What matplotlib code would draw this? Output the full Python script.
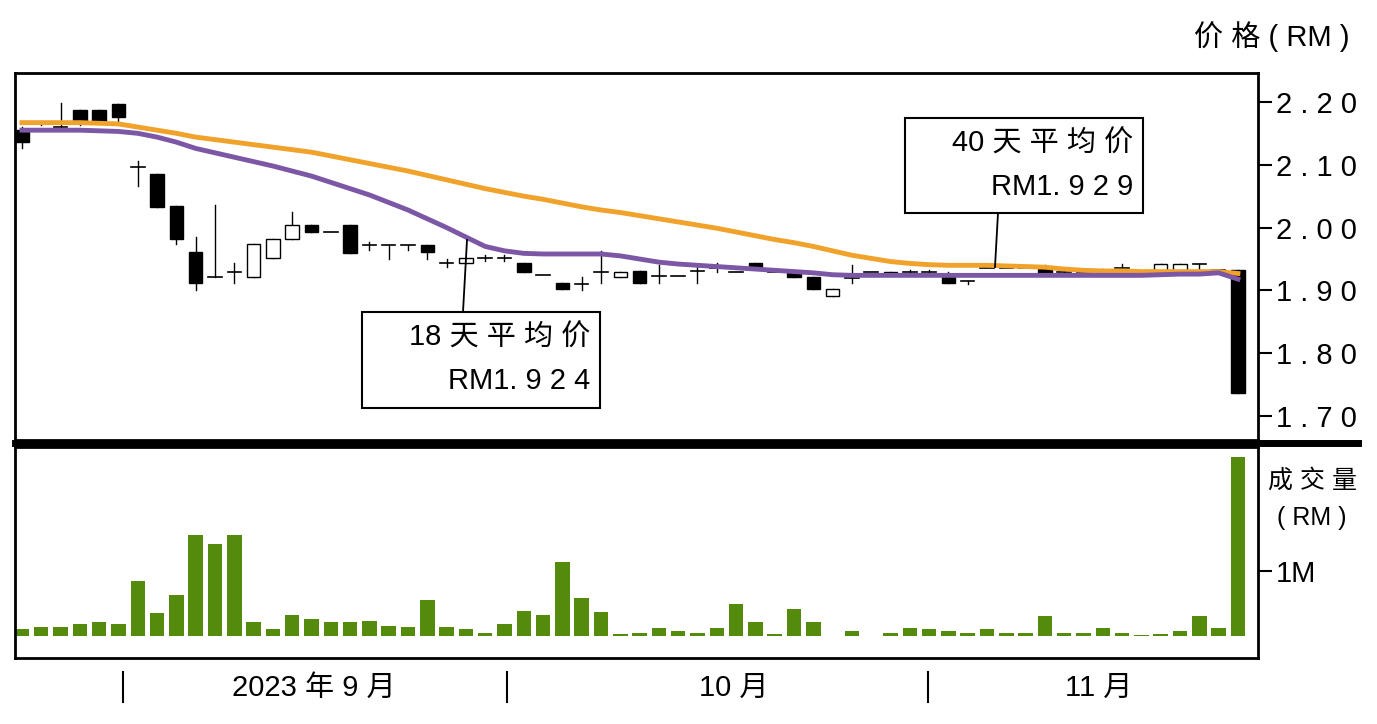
import matplotlib
matplotlib.use("Agg")
import matplotlib.pyplot as plt
from matplotlib.patches import Rectangle
from matplotlib.lines import Line2D

plt.rcParams["font.family"] = ["Liberation Sans", "Noto Sans CJK SC", "DejaVu Sans"]

opens = [2.155,2.165,2.160,2.187,2.187,2.197,2.097,2.085,2.034,1.961,1.921,1.930,1.921,1.952,1.982,2.004,
         1.993,2.004,1.972,1.972,1.972,1.972,1.944,1.944,1.952,1.952,1.944,1.925,1.912,1.910,1.930,1.921,
         1.931,1.923,1.923,1.931,1.935,1.930,1.944,1.930,1.928,1.921,1.891,1.920,1.930,1.930,1.930,1.930,
         1.921,1.915,1.935,1.935,1.935,1.934,1.930,1.930,1.930,1.935,1.930,1.931,1.931,1.942,1.932,1.933]
closes = [2.136,2.165,2.160,2.168,2.168,2.176,2.097,2.033,1.982,1.912,1.921,1.930,1.974,1.982,2.004,1.993,
          1.993,1.960,1.972,1.972,1.972,1.961,1.944,1.952,1.952,1.952,1.930,1.925,1.902,1.910,1.930,1.930,
          1.912,1.923,1.923,1.931,1.935,1.930,1.936,1.930,1.921,1.902,1.902,1.920,1.930,1.927,1.930,1.930,
          1.912,1.915,1.935,1.935,1.935,1.926,1.930,1.930,1.930,1.935,1.930,1.942,1.942,1.942,1.932,1.737]
highs = [2.160,2.167,2.198,2.187,2.187,2.197,2.106,2.085,2.034,1.985,2.036,1.944,1.974,1.982,2.025,2.004,
         1.993,2.004,1.977,1.972,1.972,1.972,1.950,1.952,1.957,1.957,1.944,1.925,1.912,1.921,1.963,1.930,
         1.931,1.940,1.923,1.938,1.943,1.930,1.944,1.930,1.928,1.921,1.902,1.940,1.930,1.930,1.933,1.933,
         1.930,1.915,1.935,1.935,1.935,1.941,1.934,1.930,1.934,1.942,1.930,1.942,1.942,1.942,1.932,1.933]
lows = [2.127,2.163,2.157,2.163,2.168,2.167,2.066,2.033,1.974,1.900,1.921,1.912,1.921,1.952,1.982,1.993,
        1.993,1.960,1.965,1.950,1.965,1.950,1.938,1.944,1.947,1.947,1.930,1.925,1.902,1.900,1.912,1.921,
        1.912,1.912,1.923,1.912,1.930,1.930,1.936,1.930,1.921,1.902,1.891,1.912,1.930,1.927,1.928,1.928,
        1.912,1.910,1.935,1.935,1.935,1.926,1.925,1.930,1.926,1.935,1.930,1.931,1.931,1.930,1.932,1.737]
ma40 = [2.167,2.167,2.167,2.167,2.166,2.165,2.160,2.155,2.150,2.144,2.140,2.136,2.132,2.128,2.124,2.120,
        2.114,2.108,2.102,2.096,2.090,2.083,2.076,2.069,2.062,2.056,2.050,2.045,2.039,2.033,2.028,2.024,
        2.019,2.014,2.009,2.004,1.999,1.993,1.987,1.981,1.976,1.970,1.963,1.956,1.951,1.946,1.943,1.941,
        1.940,1.940,1.940,1.939,1.938,1.937,1.934,1.932,1.931,1.931,1.930,1.930,1.930,1.930,1.930,1.927]
ma18 = [2.155,2.155,2.155,2.155,2.154,2.153,2.150,2.144,2.136,2.126,2.119,2.112,2.105,2.098,2.090,2.082,
        2.072,2.062,2.052,2.040,2.028,2.014,2.000,1.985,1.970,1.963,1.959,1.958,1.958,1.958,1.958,1.955,
        1.950,1.945,1.942,1.940,1.938,1.936,1.934,1.932,1.930,1.928,1.925,1.924,1.924,1.924,1.924,1.924,
        1.924,1.924,1.924,1.924,1.924,1.924,1.924,1.924,1.924,1.924,1.924,1.925,1.926,1.926,1.928,1.918]
volume = [0.10,0.14,0.14,0.19,0.21,0.19,0.84,0.35,0.63,1.56,1.42,1.56,0.21,0.10,0.33,0.26,
          0.21,0.21,0.23,0.16,0.14,0.56,0.14,0.10,0.05,0.19,0.39,0.33,1.14,0.58,0.37,0.03,
          0.05,0.12,0.07,0.05,0.12,0.49,0.21,0.03,0.42,0.21,0.0,0.07,0.0,0.05,0.12,0.10,
          0.07,0.05,0.10,0.05,0.05,0.30,0.05,0.05,0.12,0.05,0.01,0.03,0.07,0.30,0.12,2.76]
price_ticks = [1.70, 1.80, 1.90, 2.00, 2.10, 2.20]
month_labels = ["2023 年 9 月", "10 月", "11 月"]
month_label_pos = [15.1, 36.9, 55.8]
month_seps = [5.23, 25.13, 46.94]

W, H = 1377, 724
fig = plt.figure(figsize=(W/100, H/100), dpi=100)

def fr(x0, y0, x1, y1):
    return [x0/W, 1-y1/H, (x1-x0)/W, (y1-y0)/H]

ax = fig.add_axes(fr(15, 73, 1258, 440))
axv = fig.add_axes(fr(15, 447, 1258, 658))
n = len(closes)
xl = (-0.36, 64.04)
for a in (ax, axv):
    a.set_xlim(*xl)
    a.set_xticks([])
    for s in a.spines.values():
        s.set_linewidth(2)
    a.yaxis.tick_right()
    a.tick_params(axis="y", direction="out", length=10, width=1.5, labelsize=21, pad=3)

ax.set_ylim(1.662, 2.246)
ax.set_yticks(price_ticks)
ax.set_yticklabels([" ".join(f"{t:.2f}") for t in price_ticks])
bw = 0.7
for i in range(n):
    o, c, h, l = opens[i], closes[i], highs[i], lows[i]
    ax.plot([i, i], [l, h], color="black", lw=1, zorder=2)
    if abs(c - o) < 0.002:
        ax.plot([i-bw/2, i+bw/2], [o, o], color="black", lw=1.2, zorder=2)
    else:
        fill = "white" if c > o else "black"
        ax.add_patch(Rectangle((i-bw/2, min(o, c)), bw, abs(c-o), facecolor=fill,
                               edgecolor="black", lw=1, zorder=3))
ax.plot(range(n), ma40, color="#f0a22a", lw=3.5, zorder=4)
ax.plot(range(n), ma18, color="#7b57a6", lw=3.5, zorder=5)

def box(x0, y0, x1, y1, l1, l2, px0, py0, px1, py1):
    fig.add_artist(Rectangle((x0/W, 1-y1/H), (x1-x0)/W, (y1-y0)/H, transform=fig.transFigure,
                             facecolor="white", edgecolor="black", lw=1.5, zorder=10))
    fig.add_artist(Line2D([px0/W, px1/W], [1-py0/H, 1-py1/H], color="black", lw=1.3, zorder=9))
    fig.text((x1-10)/W, 1-(y0+26)/H, l1, ha="right", va="center", fontsize=21, zorder=11)
    fig.text((x1-10)/W, 1-(y0+69)/H, l2, ha="right", va="center", fontsize=21, zorder=11)

box(905, 118, 1143, 213, "40 天 平 均 价", "RM1. 9 2 9", 998, 213, 995, 267)
box(362, 312, 600, 408, "18 天 平 均 价", "RM1. 9 2 4", 467, 240, 463, 312)

axv.set_ylim(-0.34, 2.91)
axv.bar(range(n), volume, width=0.75, color="#558b0d", zorder=2)
axv.set_yticks([1.0])
axv.set_yticklabels(["1M"])

fig.add_artist(Line2D([15/W, 1358/W], [1-443/H, 1-443/H], color="black", lw=5))
fig.text(1350/W, 1-37/H, "价 格 ( RM )", ha="right", va="center", fontsize=21)
fig.text(1312/W, 1-481/H, "成 交 量", ha="center", va="center", fontsize=18)
fig.text(1312/W, 1-518/H, "( RM )", ha="center", va="center", fontsize=18)

for s in month_seps:
    xf = (15 + (s - xl[0]) / (xl[1]-xl[0]) * 1243) / W
    fig.add_artist(Line2D([xf, xf], [1-672/H, 1-702/H], color="black", lw=1.5))
for p, t in zip(month_label_pos, month_labels):
    xf = (15 + (p - xl[0]) / (xl[1]-xl[0]) * 1243) / W
    fig.text(xf, 1-688/H, t, ha="center", va="center", fontsize=21)

fig.savefig("out.png", dpi=100, facecolor="white")
